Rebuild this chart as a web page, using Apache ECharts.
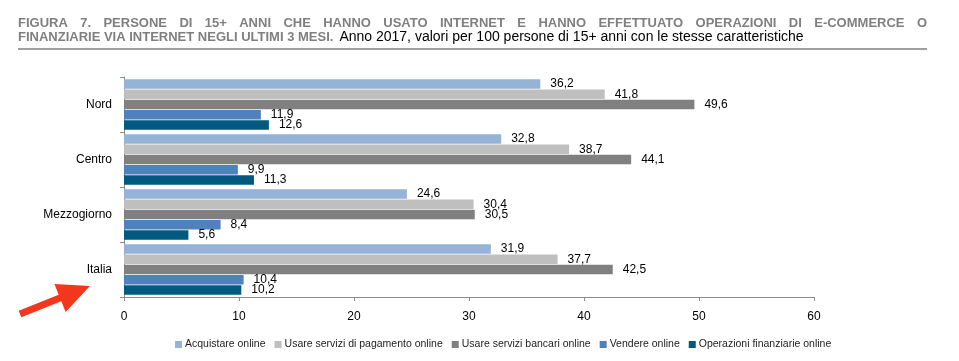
<!DOCTYPE html>
<html>
<head>
<meta charset="utf-8">
<script src="https://cdn.jsdelivr.net/npm/echarts@6/dist/echarts.min.js"></script>
<style>
html,body{margin:0;padding:0;background:#fff;}
#chart{width:959px;height:361px;}
</style>
</head>
<body>
<div id="chart"></div>
<script>
var categories = ['Nord', 'Centro', 'Mezzogiorno', 'Italia'];
var seriesNames = ['Acquistare online', 'Usare servizi di pagamento online', 'Usare servizi bancari online', 'Vendere online', 'Operazioni finanziarie online'];
var acquistare = [36.2, 32.8, 24.6, 31.9];
var pagamento = [41.8, 38.7, 30.4, 37.7];
var bancari = [49.6, 44.1, 30.5, 42.5];
var vendere = [11.9, 9.9, 8.4, 10.4];
var finanziarie = [12.6, 11.3, 5.6, 10.2];
var xTicks = [0, 10, 20, 30, 40, 50, 60];
var colors = ['#95B3D7', '#BFBFBF', '#808080', '#4F81BD', '#005A80'];

var titleLine1 = 'FIGURA 7. PERSONE DI 15+ ANNI CHE HANNO USATO INTERNET E HANNO EFFETTUATO OPERAZIONI DI E-COMMERCE O';
var titleLine2Bold = 'FINANZIARIE VIA INTERNET NEGLI ULTIMI 3 MESI.';
var titleLine2Normal = 'Anno 2017, valori per 100 persone di 15+ anni con le stesse caratteristiche';

var FONT = '"Liberation Sans", Arial, sans-serif';
var titleColor = '#7F7F7F';

// justify first title line
var cv = document.createElement('canvas').getContext('2d');
cv.font = 'bold 13px ' + FONT;
var words = titleLine1.split(' ');
var wWidths = words.map(function (w) { return cv.measureText(w).width; });
var totalW = wWidths.reduce(function (a, b) { return a + b; }, 0);
var leftX = 18, rightX = 927;
var gap = (rightX - leftX - totalW) / (words.length - 1);
var graphics = [];
var cx = leftX;
words.forEach(function (w, i) {
  graphics.push({
    type: 'text', x: cx, y: 23,
    style: { text: w, font: 'bold 13px ' + FONT, fill: titleColor, verticalAlign: 'middle' }
  });
  cx += wWidths[i] + gap;
});
var boldW = cv.measureText(titleLine2Bold).width;
graphics.push({
  type: 'text', x: leftX, y: 37.5,
  style: { text: titleLine2Bold, font: 'bold 13px ' + FONT, fill: titleColor, verticalAlign: 'middle' }
});
graphics.push({
  type: 'text', x: leftX + boldW + 6, y: 37.5,
  style: { text: titleLine2Normal, font: '14px ' + FONT, fill: '#000', verticalAlign: 'middle' }
});
graphics.push({
  type: 'line', shape: { x1: 18, y1: 49, x2: 927, y2: 49 },
  style: { stroke: '#808080', lineWidth: 1.6 }
});
// red arrow
graphics.push({
  type: 'polygon',
  shape: { points: [[21.3, 317.2], [61.3, 301.2], [65.6, 311.9], [90, 286], [54.4, 284.1], [58.7, 294.8], [18.7, 310.8]] },
  style: { fill: '#F4361C' }
});

var dataSets = [acquistare, pagamento, bancari, vendere, finanziarie];
var series = dataSets.map(function (d, i) {
  return {
    name: seriesNames[i],
    type: 'bar',
    data: d,
    barGap: '8%',
    barCategoryGap: '8%',
    itemStyle: { color: colors[i] },
    label: {
      show: true, position: 'right', distance: 10,
      color: '#000', fontSize: 12, fontFamily: FONT,
      formatter: function (p) { return String(p.value).replace('.', ','); }
    },
    emphasis: { disabled: true }
  };
});

var chart = echarts.init(document.getElementById('chart'), null, { renderer: 'canvas' });
chart.setOption({
  animation: false,
  backgroundColor: '#fff',
  textStyle: { fontFamily: FONT },
  graphic: graphics,
  grid: { left: 124, right: 145, top: 77, bottom: 64, containLabel: false, outerBoundsMode: 'none' },
  legend: {
    data: seriesNames,
    left: 170, top: 334,
    icon: 'rect', itemWidth: 7, itemHeight: 7, itemGap: 9,
    textStyle: { fontSize: 10.5, color: '#222', fontFamily: FONT, padding: [0, 0, 0, -2] },
    selectedMode: false
  },
  xAxis: {
    type: 'value', min: xTicks[0], max: xTicks[xTicks.length - 1], interval: 10,
    axisLine: { show: true, lineStyle: { color: '#8C8C8C', width: 1 } },
    axisTick: { show: true, length: 4, lineStyle: { color: '#8C8C8C' } },
    axisLabel: { color: '#000', fontSize: 12, margin: 14, fontFamily: FONT },
    splitLine: { show: false }
  },
  yAxis: {
    type: 'category', data: categories, inverse: true,
    axisLine: { show: true, lineStyle: { color: '#8C8C8C', width: 1 } },
    axisTick: { show: true, length: 4, lineStyle: { color: '#8C8C8C' } },
    axisLabel: { color: '#000', fontSize: 12, margin: 12, fontFamily: FONT }
  },
  series: series
});
</script>
</body>
</html>
